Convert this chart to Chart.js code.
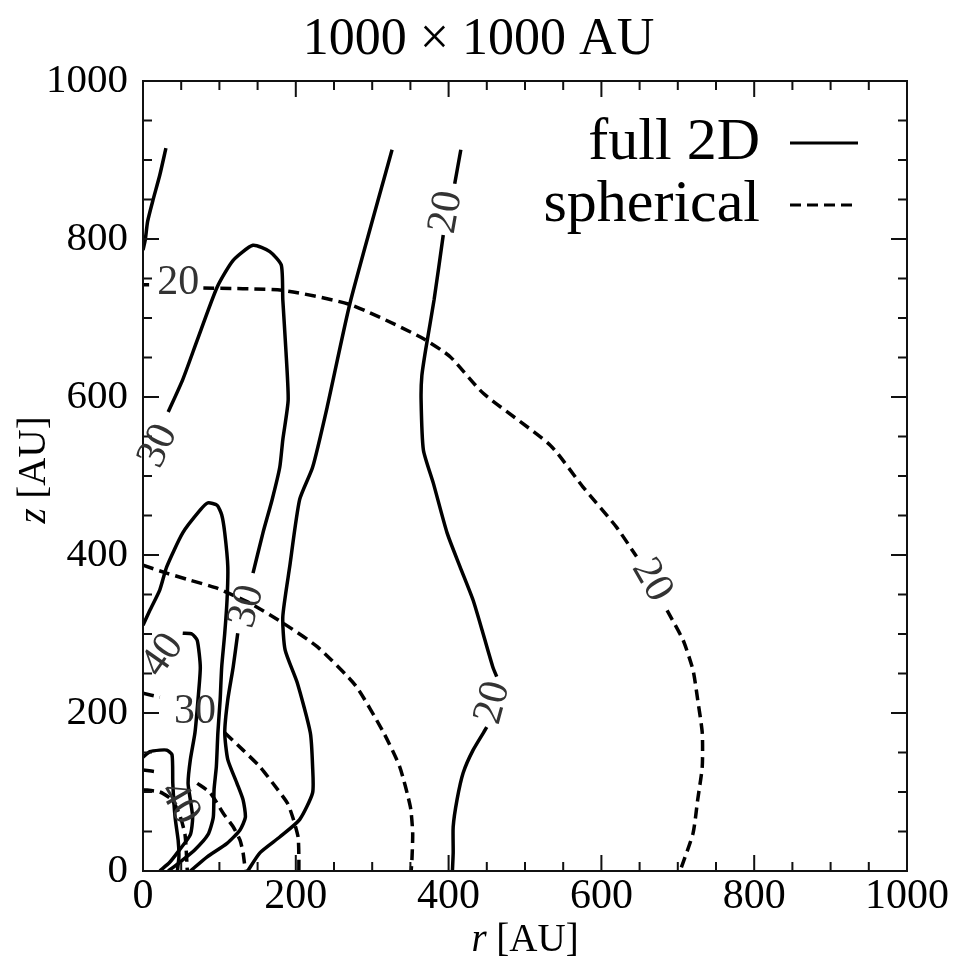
<!DOCTYPE html>
<html>
<head>
<meta charset="utf-8">
<script src="https://cdn.jsdelivr.net/npm/chart.js@4.4.1/dist/chart.umd.min.js"></script>
<style>
  html, body { margin: 0; padding: 0; background: #fff; }
  #wrap { width: 957px; height: 958px; }
</style>
</head>
<body>
<div id="wrap"><canvas id="chart" width="957" height="958"></canvas></div>
<script>
// tick values (AU)
const rTicks = [0, 200, 400, 600, 800, 1000];
const zTicks = [0, 200, 400, 600, 800, 1000];

// contours, [r, z] in AU, null = gap for a label
const full2D_1 = [[30,915],[22,881],[13,849],[6,822],[3,799],[0,786]];
const full2D_2 = [[326,913],[271,719],[241,587],[222,511],[205,470],[192,385],[183,322],[186,280],[202,238],[219,175],[222,132],[222,99],[205,65],[179,43],[153,23],[137,0]];
const full2D_3 = [[416,913],[408,870],null,[393,805],[381,723],[370,660],[365,627],[364,596],[367,533],[380,491],[398,428],[415,385],[432,343],[445,301],[458,258],[463,246],null,[450,182],[432,153],[419,124],[411,90],[406,56],[406,23],[405,0]];
const full2D_4 = [[0,480],null,[33,581],[52,622],[71,672],[97,739],[118,773],[144,792],[166,784],[181,767],[183,723],[187,660],[190,596],[183,546],[179,511],[169,470],[157,428],[144,377],null,[124,301],[118,258],[111,217],[107,175],[111,141],[123,111],[131,90],[134,68],[127,52],[110,35],[84,18],[62,0]];
const full2D_5 = [[0,311],[9,330],[22,356],[31,385],[52,428],[75,457],[85,466],[97,463],[103,451],[107,428],[111,385],[110,343],[107,301],[103,258],[101,217],[98,175],[96,132],[93,103],[92,68],[85,46],[68,27],[48,11],[33,0]];
const full2D_6 = [[0,242],null,[52,301],[64,300],[71,292],[75,258],[72,217],[68,175],[62,141],[59,111],[62,90],[65,68],[62,46],[48,27],[35,11],[22,0]];
const full2D_7 = [[0,144],[9,151],[22,153],[31,153],[38,147],[39,111],[42,68],[46,39],[47,18],[45,0]];

const spherical_1 = [[0,742],[8,742],null,[79,738],[182,735],[271,717],[363,676],[402,651],[445,605],[533,539],[576,486],[620,435],[646,398],null,[686,330],[707,292],[720,254],[726,217],[732,175],[732,132],[726,90],[720,48],[703,0]];
const spherical_2 = [[0,387],[31,377],[62,368],[97,358],[140,339],[183,314],[228,284],[278,235],[315,175],[336,132],[350,81],[353,48],[352,14],[351,0]];
const spherical_3 = [[0,225],[22,220],null,[107,175],[131,153],[153,132],[170,111],[189,86],[196,68],[203,43],[204,18],[204,0]];
const spherical_4 = [[0,128],[22,125],null,[71,111],[88,99],[105,73],[118,56],[127,39],[131,23],[134,0]];
const spherical_5 = [[0,103],[22,100],[38,90],[48,71],[55,46],[58,0]];

// contour level labels: text, r, z, angle (deg)
const levelLabels = [
    ['20', 46, 744, 0],
    ['20', 397, 834, -80],
    ['30', 20, 538, -65],
    ['30', 136, 335, -75],
    ['40', 26, 273, -55],
    ['30', 68, 201, 0],
    ['40', 48, 86, 60],
    ['20', 458, 213, -75],
    ['20', 666, 368, 60]
];

const SERIF = '"Liberation Serif", "Times New Roman", serif';

const toPoints = arr => arr.map(p => p ? {x: p[0], y: p[1]} : {x: 0, y: null});

const solidSets = [full2D_1, full2D_2, full2D_3, full2D_4, full2D_5, full2D_6, full2D_7];
const dashedSets = [spherical_1, spherical_2, spherical_3, spherical_4, spherical_5];

const datasets = [];

solidSets.forEach((arr, i) => {
    datasets.push({
        label: 'full 2D',
        inLegend: i === 0,
        data: toPoints(arr),
        borderColor: '#000',
        backgroundColor: '#000',
        borderWidth: 3.5,
        pointRadius: 0,
        tension: 0.2,
        fill: false
    });
});

dashedSets.forEach((arr, i) => {
    datasets.push({
        label: 'spherical',
        inLegend: i === 0,
        data: toPoints(arr),
        borderColor: '#000',
        backgroundColor: '#000',
        borderWidth: 3.5,
        borderDash: [11, 6],
        pointRadius: 0,
        tension: 0.2,
        fill: false
    });
});

// frame with inward ticks on all four sides
const framePlugin = {
    id: 'frame',
    afterDatasetsDraw(chart) {
        const {ctx, chartArea: a, scales} = chart;
        ctx.save();
        ctx.strokeStyle = '#111';
        ctx.lineWidth = 2;
        ctx.strokeRect(a.left, a.top, a.right - a.left, a.bottom - a.top);
        ctx.beginPath();
        for (let v = 50; v < 1000; v += 50) {
            const len = v % 200 === 0 ? 16 : 9;
            const px = scales.x.getPixelForValue(v);
            const py = scales.y.getPixelForValue(v);
            ctx.moveTo(px, a.bottom); ctx.lineTo(px, a.bottom - len);
            ctx.moveTo(px, a.top); ctx.lineTo(px, a.top + len);
            ctx.moveTo(a.left, py); ctx.lineTo(a.left + len, py);
            ctx.moveTo(a.right, py); ctx.lineTo(a.right - len, py);
        }
        ctx.stroke();
        ctx.restore();
    }
};

// level labels along the contours
const levelLabelPlugin = {
    id: 'levelLabels',
    afterDatasetsDraw(chart) {
        const {ctx, scales} = chart;
        ctx.save();
        ctx.fillStyle = '#333';
        ctx.font = '42px ' + SERIF;
        ctx.textAlign = 'center';
        ctx.textBaseline = 'middle';
        levelLabels.forEach(([txt, r, z, ang]) => {
            ctx.save();
            ctx.translate(scales.x.getPixelForValue(r), scales.y.getPixelForValue(z));
            ctx.rotate(ang * Math.PI / 180);
            ctx.fillText(txt, 0, 0);
            ctx.restore();
        });
        ctx.restore();
    }
};

// axis titles with italic symbol
const axisTitlePlugin = {
    id: 'axisTitles',
    afterDraw(chart) {
        const {ctx, chartArea: a} = chart;
        const it = 'italic 39px ' + SERIF;
        const up = '39px ' + SERIF;
        const draw = (sym, rest, cx, y) => {
            ctx.font = it;
            const w1 = ctx.measureText(sym).width;
            ctx.font = up;
            const w2 = ctx.measureText(rest).width;
            let x = cx - (w1 + w2) / 2;
            ctx.font = it;
            ctx.fillText(sym, x, y);
            ctx.font = up;
            ctx.fillText(rest, x + w1, y);
        };
        ctx.save();
        ctx.fillStyle = '#000';
        ctx.textAlign = 'left';
        ctx.textBaseline = 'alphabetic';
        draw('r', ' [AU]', (a.left + a.right) / 2, 951);
        ctx.translate(45, (a.top + a.bottom) / 2 - 6);
        ctx.rotate(-Math.PI / 2);
        draw('z', ' [AU]', 0, 0);
        ctx.restore();
    }
};

// put the legend in the upper right of the plot
const legendPlacePlugin = {
    id: 'legendPlace',
    afterLayout(chart) {
        const lg = chart.legend;
        if (!lg) return;
        const pad = lg.options.labels.padding;
        lg.left = 858 + pad - lg.width;
        lg.right = lg.left + lg.width + 4;
        lg.top = 111;
        lg.bottom = lg.top + 200;
    }
};

const baseLabels = Chart.defaults.plugins.legend.labels.generateLabels;

new Chart(document.getElementById('chart'), {
    type: 'line',
    data: { datasets: datasets },
    plugins: [framePlugin, levelLabelPlugin, axisTitlePlugin, legendPlacePlugin],
    options: {
        responsive: false,
        animation: false,
        devicePixelRatio: 1,
        events: [],
        layout: { padding: 0 },
        plugins: {
            title: {
                display: true,
                text: '1000 \u00d7 1000 AU',
                color: '#000',
                font: { family: SERIF, size: 52, weight: 'normal' },
                padding: { top: 9, bottom: 9.6 }
            },
            legend: {
                display: true,
                position: 'chartArea',
                align: 'start',
                rtl: true,
                labels: {
                    generateLabels: chart => baseLabels(chart).map(item => {
                        const ds = chart.data.datasets[item.datasetIndex];
                        item.lineDash = ds.borderDash || [];
                        item.lineWidth = 3;
                        item.strokeStyle = '#000';
                        return item;
                    }),
                    filter: (item, data) => data.datasets[item.datasetIndex].inLegend,
                    color: '#000',
                    font: { family: SERIF, size: 60 },
                    usePointStyle: true,
                    pointStyle: 'line',
                    pointStyleWidth: 68,
                    boxHeight: 20,
                    padding: 2
                }
            },
            tooltip: { enabled: false }
        },
        scales: {
            x: {
                type: 'linear',
                position: 'bottom',
                min: 0,
                max: 1000,
                afterBuildTicks: s => { s.ticks = rTicks.map(v => ({ value: v })); },
                afterFit: s => { s.height = 87; },
                ticks: {
                    color: '#000',
                    padding: 1,
                    maxRotation: 0,
                    callback: v => String(v),
                    font: { family: SERIF, size: 42 }
                },
                grid: { display: false, drawTicks: false },
                border: { display: false }
            },
            y: {
                type: 'linear',
                position: 'left',
                min: 0,
                max: 1000,
                afterBuildTicks: s => { s.ticks = zTicks.map(v => ({ value: v })); },
                afterFit: s => { s.width = 143; },
                ticks: {
                    color: '#000',
                    padding: 15,
                    callback: v => String(v),
                    font: { family: SERIF, size: 41 }
                },
                grid: { display: false, drawTicks: false },
                border: { display: false }
            },
            y2: {
                type: 'linear',
                position: 'right',
                display: true,
                afterFit: s => { s.width = 50; },
                ticks: { display: false },
                grid: { display: false, drawTicks: false },
                border: { display: false }
            }
        }
    }
});
</script>
</body>
</html>
